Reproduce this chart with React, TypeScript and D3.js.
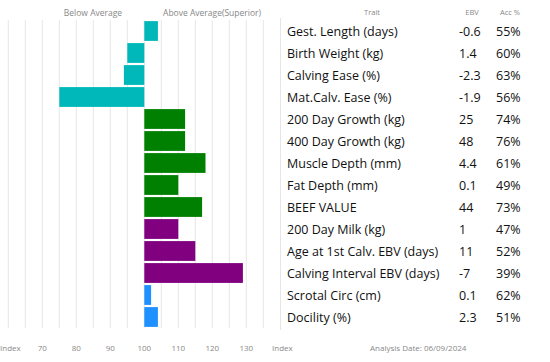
import React from 'react';
import { scaleLinear, scaleBand, range } from 'd3';

// traits shown down the chart, top to bottom
const traits = [
  'Gest. Length (days)',
  'Birth Weight (kg)',
  'Calving Ease (%)',
  'Mat.Calv. Ease (%)',
  '200 Day Growth (kg)',
  '400 Day Growth (kg)',
  'Muscle Depth (mm)',
  'Fat Depth (mm)',
  'BEEF VALUE',
  '200 Day Milk (kg)',
  'Age at 1st Calv. EBV (days)',
  'Calving Interval EBV (days)',
  'Scrotal Circ (cm)',
  'Docility (%)',
];

// index value of each trait (100 = breed average)
const indexValues = [104, 95, 94, 75, 112, 112, 118, 110, 117, 110, 115, 129, 102, 104];
const ebv = ['-0.6', '1.4', '-2.3', '-1.9', '25', '48', '4.4', '0.1', '44', '1', '11', '-7', '0.1', '2.3'];
const acc = ['55%', '60%', '63%', '56%', '74%', '76%', '61%', '49%', '73%', '47%', '52%', '39%', '62%', '51%'];
const groups = ['calving', 'calving', 'calving', 'calving', 'growth', 'growth', 'growth', 'growth', 'growth', 'maternal', 'maternal', 'maternal', 'other', 'other'];

const axisTicks = [70, 80, 90, 100, 110, 120, 130];

const width = 550;
const height = 362;
const font = "'Open Sans', sans-serif";

const groupColor: Record<string, string> = {
  calving: '#00b8b9',
  growth: '#008000',
  maternal: '#800080',
  other: '#1e90ff',
};

const App = () => {
  const xScale = scaleLinear().domain([60, 135]).range([8.3, 263.3]);
  const yScale = scaleBand<string>()
    .domain(traits)
    .range([20, 328])
    .paddingInner(0.1)
    .paddingOuter(0.05);

  const gridValues = range(60, 136, 5);

  return (
    <svg
      width={width}
      height={height}
      style={{ position: 'absolute', left: 0, top: 0, background: '#fff' }}
      fontFamily={font}
    >
      {/* vertical grid */}
      {gridValues.map((v) => (
        <line
          key={v}
          x1={xScale(v)}
          x2={xScale(v)}
          y1={20}
          y2={328}
          stroke="#e6e6e6"
          strokeWidth={1}
        />
      ))}
      {/* table left border */}
      <line x1={280.5} x2={280.5} y1={18} y2={330} stroke="#e6e6e6" />

      {/* bars grow out from 100 */}
      {traits.map((t, i) => {
        const v = indexValues[i];
        const x0 = xScale(Math.min(100, v));
        const x1 = xScale(Math.max(100, v));
        return (
          <rect
            key={t}
            x={x0}
            y={yScale(t)}
            width={x1 - x0}
            height={yScale.bandwidth()}
            fill={groupColor[groups[i]]}
          />
        );
      })}

      {/* headers */}
      <text x={93} y={16} fontSize={8.5} fill="#888" textAnchor="middle">Below Average</text>
      <text x={212} y={16} fontSize={8.5} fill="#888" textAnchor="middle">Above Average(Superior)</text>
      <text x={372} y={15} fontSize={7.5} fill="#888" textAnchor="middle">Trait</text>
      <text x={472} y={15} fontSize={7.5} fill="#888" textAnchor="middle">EBV</text>
      <text x={510} y={15} fontSize={7.5} fill="#888" textAnchor="middle">Acc %</text>

      {/* table rows */}
      {traits.map((t, i) => {
        const cy = (yScale(t) ?? 0) + yScale.bandwidth() / 2 + 4.5;
        return (
          <g key={t} fontSize={12.5} fill="#111">
            <text x={287} y={cy}>{t}</text>
            <text x={459} y={cy}>{ebv[i]}</text>
            <text x={496} y={cy}>{acc[i]}</text>
          </g>
        );
      })}

      {/* bottom axis labels */}
      <text x={0} y={351} fontSize={8} fill="#888">Index</text>
      {axisTicks.map((v) => (
        <text key={v} x={xScale(v)} y={351} fontSize={8} fill="#888" textAnchor="middle">
          {v}
        </text>
      ))}
      <text x={272} y={351} fontSize={8} fill="#888">Index</text>
      <text x={370} y={351} fontSize={8} fill="#888">Analysis Date: 06/09/2024</text>
    </svg>
  );
};

export default App;
